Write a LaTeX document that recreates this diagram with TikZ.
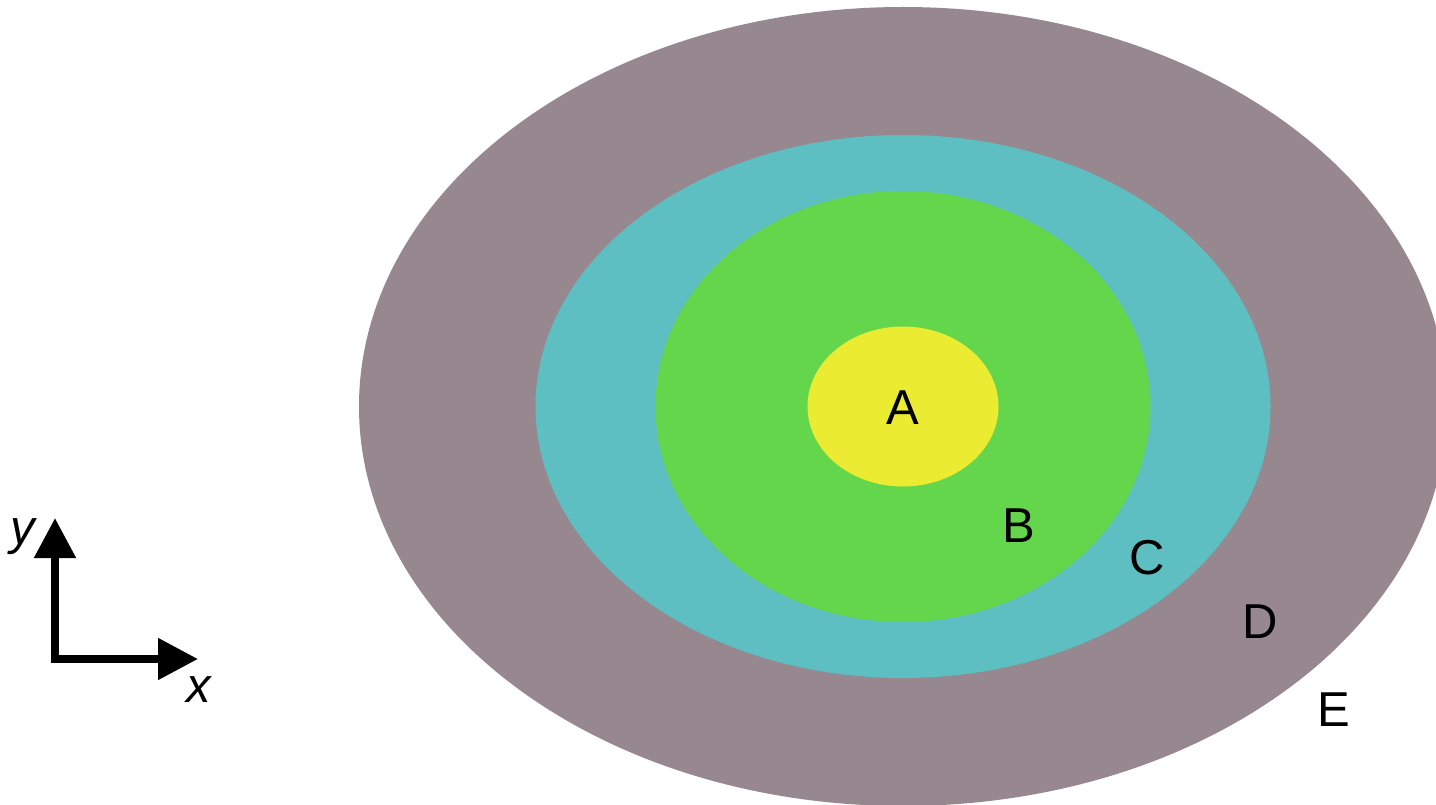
\documentclass[tikz,border=0pt]{standalone}
\usepackage{fontspec}
\setmainfont{Liberation Sans}
\usetikzlibrary{arrows.meta}
\definecolor{ringE}{HTML}{97878F}
\definecolor{ringD}{HTML}{5EBFC2}
\definecolor{ringC}{HTML}{63D64C}
\definecolor{ringA}{HTML}{EBEC31}
\begin{document}
\begin{tikzpicture}[x=1pt,y=-1pt,
  lbl/.style={font=\fontsize{49}{52}\selectfont, inner sep=0pt, text=black},
  axlbl/.style={font=\fontsize{49}{52}\selectfont\itshape, inner sep=0pt, text=black},
  axis/.style={line width=8pt, line join=miter, {Triangle[width=40pt,length=40pt]}-{Triangle[width=40pt,length=40pt]}}]
\useasboundingbox (0,0) rectangle (1436,805);
\clip (0,0) rectangle (1436,805);
\fill[white] (0,0) rectangle (1436,805);
\fill[ringE] (903,406.5) ellipse [x radius=544, y radius=399.5];
\fill[ringD] (903,406.5) ellipse [x radius=367.5, y radius=271.5];
\fill[ringC] (903,406.5) ellipse [x radius=247.5, y radius=215.5];
\fill[ringA] (903,406.5) ellipse [x radius=95.5, y radius=80];
\node[lbl] (A) at (902.5,407.5) {A};
\node[lbl] (B) at (1019,526) {B};
\node[lbl] (C) at (1147.5,558) {C};
\node[lbl] (D) at (1260,622) {D};
\node[lbl] (E) at (1334,710) {E};
\coordinate (O) at (55,659);
\coordinate (ytip) at (55,518);
\coordinate (xtip) at (198,659);
\draw[axis] (ytip) -- (O) -- (xtip);
\node[axlbl] (ylab) at (22.5,536.5) {y};
\node[axlbl] (xlab) at (199,690) {x};
\end{tikzpicture}
\end{document}
